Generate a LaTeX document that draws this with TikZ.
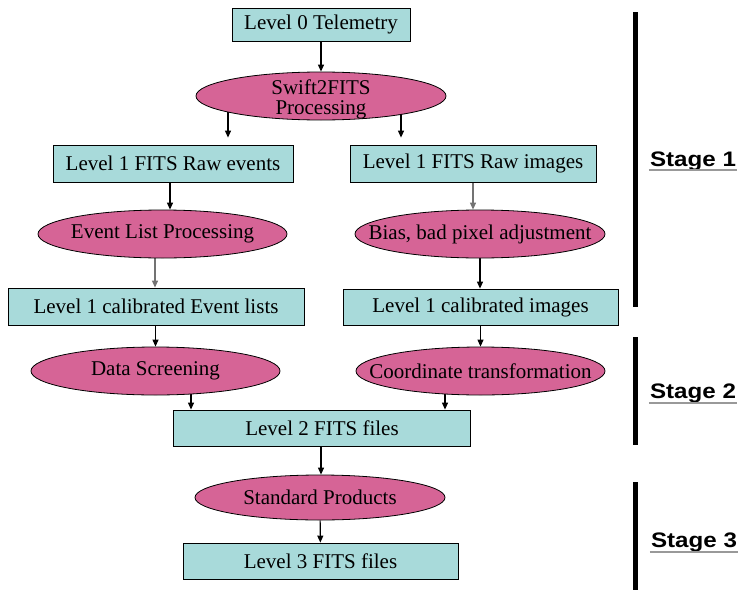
\documentclass[tikz,border=0pt]{standalone}
\usepackage{fontspec}
\setmainfont{Liberation Serif}
\newfontfamily\stagefont{Liberation Sans}[FakeStretch=1.15]
\usepackage{xcolor}
\usetikzlibrary{positioning,shapes,arrows.meta,backgrounds}
\definecolor{lvlcyan}{RGB}{168,218,218}
\definecolor{procpink}{RGB}{214,100,150}
\tikzset{
  lvlbox/.style   = {draw, line width=0.8pt, rectangle, fill=lvlcyan, inner sep=0pt,
                     minimum height=36pt, font=\fontsize{21}{20}\selectfont},
  proc/.style     = {draw, line width=0.8pt, ellipse, fill=procpink, align=center,
                     inner xsep=-40pt, inner ysep=-5pt, minimum height=48pt,
                     font=\fontsize{21}{20}\selectfont},
  flow/.style     = {-{Triangle[length=7pt,width=6pt]}, line width=1.1pt},
  faint/.style    = {flow, draw=black!55},
  stagebar/.style = {line width=5.5pt},
  stagelbl/.style = {font=\stagefont\bfseries\fontsize{21}{24}\selectfont,
                     inner sep=0pt, anchor=base, minimum width=88pt},
  uline/.style    = {draw=black!40, line width=1.5pt}
}

\begin{document}
\begin{tikzpicture}[x=1pt, y=-1pt]
  \useasboundingbox (0,0) rectangle (747,597);
  % stage 1
  \node[lvlbox, minimum width=178pt, minimum height=33pt] (l0) at (321,24.5) {Level 0 Telemetry};
  \node[proc, minimum width=250pt, inner ysep=-9pt] (swift) at (321,96) {\rule{0pt}{22pt}Swift2FITS\\Processing};
  \node[lvlbox, minimum width=240pt, minimum height=37pt] (rawev) at (173,163.5) {Level 1 FITS Raw events};
  \node[lvlbox, minimum width=246pt, minimum height=37pt] (rawim) at (473,163.5) {Level 1 FITS Raw images};
  \node[proc, minimum width=249pt] (evproc) at (162.5,234) {Event List Processing};
  \node[proc, minimum width=250pt] (bias) at (480,234) {Bias, bad pixel adjustment};
  \node[lvlbox, minimum width=296pt, minimum height=37pt] (evcal) at (156,306.5) {Level 1 calibrated Event lists};
  \node[lvlbox, minimum width=275pt] (imcal) at (480.5,307) {Level 1 calibrated images};
  % stage 2
  \node[proc, minimum width=249pt] (screen) at (155.5,371) {Data Screening};
  \node[proc, minimum width=249pt] (coord) at (480.5,371) {Coordinate transformation};
  \node[lvlbox, minimum width=297pt] (l2) at (322,428) {Level 2 FITS files};
  % stage 3
  \node[proc, minimum width=250pt, minimum height=45pt] (std) at (320,497.5) {Standard Products};
  \node[lvlbox, minimum width=275pt] (l3) at (320.5,561) {Level 3 FITS files};

  \begin{scope}[on background layer]
    \draw[flow] (l0) -- (swift);
    \draw[flow, shorten >=7pt] ([xshift=-93pt]swift.center) -- ([xshift=55pt]rawev.north);
    \draw[flow, shorten >=7pt] ([xshift=80pt]swift.center) -- ([xshift=-72pt]rawim.north);
    \draw[flow] ([xshift=-3pt]rawev.center) -- ([xshift=7.5pt]evproc.north);
    \draw[faint] ([xshift=-7.5pt]evproc.center) -- ([xshift=-1pt]evcal.north);
    \draw[faint] (rawim.center) -- ([xshift=-7pt]bias.north);
    \draw[flow] (bias.center) -- (bias.center |- imcal.north);
    \draw[flow] (evcal.center -| screen.center) -- (screen.north);
    \draw[flow] (imcal.center) -- (imcal.center |- coord.north);
    \draw[flow] ([xshift=35.5pt]screen.center) -- ([xshift=-131pt]l2.north);
    \draw[flow] ([xshift=-35.5pt]coord.center) -- ([xshift=123pt]l2.north);
    \draw[flow] (l2.center -| 321,0) -- (std.north -| 321,0);
    \draw[flow] (std) -- (l3);
  \end{scope}

  % stage markers
  \draw[stagebar] (635.5,12) -- (635.5,307);
  \draw[stagebar] (635.5,337) -- (635.5,445);
  \draw[stagebar] (635.5,482) -- (635.5,590);
  \node[stagelbl] (st1) at (693,166) {Stage 1};
  \node[stagelbl] (st2) at (693,398) {Stage 2};
  \node[stagelbl] (st3) at (694,547) {Stage 3};
  \draw[uline] ([yshift=-4pt]st1.base west) -- ([yshift=-4pt]st1.base east);
  \draw[uline] ([yshift=-5pt]st2.base west) -- ([yshift=-5pt]st2.base east);
  \draw[uline] ([yshift=-5pt]st3.base west) -- ([yshift=-5pt]st3.base east);
\end{tikzpicture}
\end{document}
